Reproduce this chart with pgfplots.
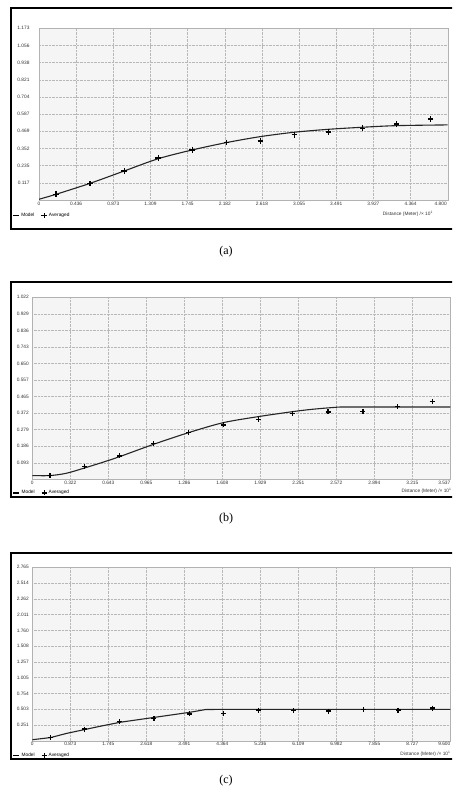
\documentclass[border=0pt]{standalone}
\usepackage{pgfplots}
\pgfplotsset{compat=1.18}
\usepackage{fontspec}
\setmainfont{Liberation Sans}
\newfontfamily\capfont{Liberation Serif}
\newcommand{\tk}{\fontsize{4.8}{5.5}\selectfont}
\pgfplotsset{
  semistyle/.style={
    scale only axis,
    anchor=south west,
    axis background/.style={fill=black!4},
    grid=major,
    major grid style={densely dotted, black!28, line width=0.4pt},
    axis line style={black!30, line width=0.4pt},
    major tick length=0pt,
    ticklabel style={font=\tk, text=black!80},
    xticklabel style={inner sep=1.5pt},
    legend style={draw=none, fill=none, legend columns=2, font=\tk,
      at={(axis description cs:0,0)}, anchor=north west, inner sep=0pt,
      /tikz/every even column/.append style={column sep=5pt}},
    legend cell align=left,
    xlabel style={font=\tk, text=black!80, at={(axis description cs:1,0)}, anchor=north west, inner sep=0pt},
  },
  modelstyle/.style={black!85, line width=1.1pt, smooth, tension=0.5, mark=none,
    legend image code/.code={\draw[black, line width=1.1pt] (0pt,0pt) -- (6pt,0pt);}},
  avgstyle/.style={only marks, mark=+, mark size=2.5pt, mark options={black, line width=1.2pt}},
}
\begin{document}
\begin{tikzpicture}[x=1pt,y=1pt]
\clip (0,0) rectangle (452,-799);
\path[fill=white] (0,0) rectangle (452,-799);
% frames
\draw[line width=2pt, black] (11,-8) rectangle (470,-229);
\draw[line width=2pt, black] (11,-282) rectangle (470,-497);
\draw[line width=2pt, black] (11,-553) rectangle (470,-759);

% ---------------- (a)
\begin{axis}[semistyle, at={(39pt,-200pt)}, width=408.7pt, height=171.7pt,
  xmin=0, xmax=4.8, ymin=0, ymax=1.173,
  xtick={0,0.4364,0.8727,1.3091,1.7455,2.1818,2.6182,3.0545,3.4909,3.9273,4.3636,4.8},
  xticklabels={0,0.436,0.873,1.309,1.745,2.182,2.618,3.055,3.491,3.927,4.364,\makebox[0pt][r]{4.800\hspace{1pt}}},
  ytick={0,0.1173,0.2346,0.3519,0.4692,0.5865,0.7038,0.8211,0.9384,1.0557,1.173},
  yticklabels={,0.117,0.235,0.352,0.469,0.587,0.704,0.821,0.938,1.056,1.173},
  yticklabel style={xshift=-6pt},
  legend style={xshift=-27pt, yshift=-11pt},
  xlabel={Distance (Meter) /× 10\textsuperscript{1}},
  xlabel style={xshift=-65pt, yshift=-11pt},
]
\addplot[modelstyle] coordinates {(0,0.005) (0.2,0.039) (0.6,0.114) (1.0,0.198) (1.4,0.282) (1.8,0.342) (2.2,0.392) (2.6,0.433) (3.0,0.463) (3.4,0.483) (3.8,0.497) (4.2,0.508) (4.8,0.513)};
\addlegendentry{Model}
\addplot[avgstyle, mark size=2.8pt] coordinates {(0.2,0.039) (0.6,0.112) (1.0,0.198) (1.4,0.287) (1.8,0.342) (2.2,0.392) (2.6,0.403) (3.0,0.446) (3.4,0.465) (3.8,0.490) (4.2,0.519) (4.6,0.553)};
\addlegendentry{Averaged}
\node[font=\tk, text=black!80, anchor=south] at (rel axis cs:0,1) [yshift=6pt] {r};
\end{axis}

% ---------------- (b)
\begin{axis}[semistyle, at={(32.3pt,-479.3pt)}, width=418pt, height=182pt,
  xmin=0, xmax=3.5365, ymin=0, ymax=1.022,
  xtick={0,0.3215,0.643,0.9645,1.286,1.6075,1.929,2.2505,2.572,2.8935,3.215,3.5365},
  xticklabels={0,0.322,0.643,0.965,1.286,1.608,1.929,2.251,2.572,2.894,3.215,\makebox[0pt][r]{3.537}},
  ytick={0,0.0929,0.1858,0.2787,0.3716,0.4645,0.5575,0.6504,0.7433,0.8362,0.9291,1.022},
  yticklabels={,0.093,0.186,0.279,0.372,0.465,0.557,0.650,0.743,0.836,0.929,1.022},
  legend style={xshift=-20pt, yshift=-9pt},
  xlabel={Distance (Meter) /× 10\textsuperscript{1}},
  xlabel style={xshift=-49pt, yshift=-9pt},
]
\addplot[modelstyle] coordinates {(0,0.021) (0.149,0.021) (0.289,0.034) (0.444,0.064) (0.598,0.096) (0.738,0.127) (1.028,0.197) (1.322,0.262) (1.615,0.318) (1.912,0.352) (2.204,0.380) (2.367,0.393) (2.563,0.404) (2.676,0.406) (3.5365,0.406)};
\addlegendentry{Model}
\addplot[avgstyle] coordinates {(0.149,0.021) (0.444,0.071) (0.738,0.131) (1.028,0.200) (1.322,0.264) (1.615,0.305) (1.912,0.337) (2.204,0.371) (2.502,0.378) (2.797,0.382) (3.089,0.408) (3.383,0.438)};
\addlegendentry{Averaged}
\node[font=\tk, text=black!80, anchor=south] at (rel axis cs:0,1) [yshift=4pt] {r};
\end{axis}

% ---------------- (c)
\begin{axis}[semistyle, at={(32.3pt,-740.7pt)}, width=418pt, height=173.4pt,
  xmin=0, xmax=9.6, ymin=0, ymax=2.765,
  xtick={0,0.8727,1.7455,2.6182,3.4909,4.3636,5.2364,6.1091,6.9818,7.8545,8.7273,9.6},
  xticklabels={0,0.873,1.745,2.618,3.491,4.364,5.236,6.109,6.982,7.855,8.727,\makebox[0pt][r]{9.600}},
  ytick={0,0.2514,0.5027,0.7541,1.0055,1.2568,1.5082,1.7595,2.0109,2.2623,2.5136,2.765},
  yticklabels={,0.251,0.503,0.754,1.005,1.257,1.508,1.760,2.011,2.262,2.514,2.765},
  legend style={xshift=-20pt, yshift=-10pt},
  xlabel={Distance (Meter) /× 10\textsuperscript{1}},
  xlabel style={xshift=-50pt, yshift=-10pt},
]
\addplot[black!85, line width=1.1pt, mark=none,
  legend image code/.code={\draw[black, line width=1.1pt] (0pt,0pt) -- (6pt,0pt);}]
  coordinates {(0,0.016) (0.42,0.05) (0.79,0.117) (1.55,0.229) (2.01,0.293) (2.80,0.372) (3.61,0.452) (3.98,0.497) (4.40,0.500) (9.6,0.500)};
\addlegendentry{Model}
\addplot[avgstyle] coordinates {(0.42,0.053) (1.206,0.186) (2.008,0.303) (2.794,0.351) (3.61,0.426) (4.397,0.436) (5.2,0.489) (6.0,0.479) (6.8,0.473) (7.6,0.495) (8.4,0.489) (9.2,0.521)};
\addlegendentry{Averaged}
\node[font=\tk, text=black!80, anchor=south] at (rel axis cs:0,1) [yshift=4pt] {r};
\end{axis}

% captions
\node[font=\capfont\fontsize{12}{14}\selectfont] at (226,-252) {(a)};
\node[font=\capfont\fontsize{12}{14}\selectfont] at (226,-519) {(b)};
\node[font=\capfont\fontsize{12}{14}\selectfont] at (226,-781) {(c)};
\end{tikzpicture}
\end{document}
